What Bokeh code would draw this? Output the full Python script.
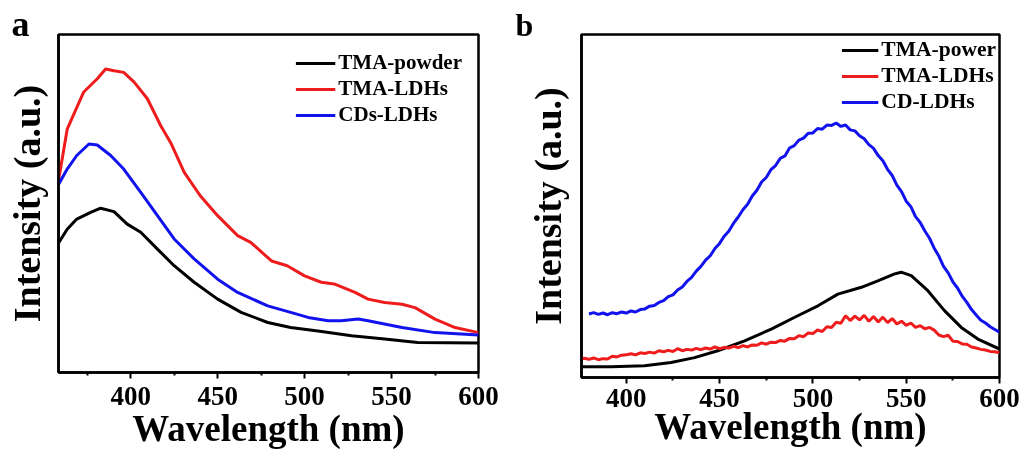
from bokeh.plotting import figure
from bokeh.layouts import row
from bokeh.models import Range1d, Legend, LegendItem, FixedTicker
from bokeh.embed import file_html
from bokeh.resources import INLINE

# ---------------- data: panel a ----------------
a_black_x = [358.7, 363.5, 369, 377, 382.7, 390.4, 398, 405.8, 415.4, 425, 436.5, 450, 463.5, 478.8, 492, 507.7, 527, 546, 565, 600]
a_black_y = [38.5, 42.4, 45.4, 47.4, 48.6, 47.6, 43.9, 41.5, 36.5, 31.6, 26.7, 21.7, 17.8, 14.8, 13.3, 12.3, 10.9, 9.9, 8.9, 8.7]

a_red_x = [358.7, 363.5, 373, 380.8, 385.6, 390.4, 396, 402, 409.6, 417.3, 423, 430.8, 440, 450, 461.5, 469, 481, 490, 500, 509.6, 517, 529, 536.5, 546, 556, 563.5, 575, 586.5, 600]
a_red_y = [57.3, 72, 83, 86.9, 89.8, 89.3, 88.8, 85.9, 81, 73, 68, 59.2, 52.3, 46.4, 40.5, 38.5, 33, 31.6, 28.6, 26.7, 26.2, 23.7, 21.7, 20.7, 20.2, 19.2, 15.8, 13.3, 11.8]

a_blue_x = [358.7, 363.5, 369, 376, 380.8, 388.5, 396, 405.8, 415.4, 425, 436.5, 450, 461.5, 478.8, 492, 502, 513.5, 521, 530.8, 536.5, 556, 575, 600]
a_blue_y = [55.8, 60.2, 64.2, 67.6, 67.3, 64.2, 60.2, 53.3, 46.4, 39.5, 33.6, 27.6, 23.7, 19.7, 17.8, 16.3, 15.3, 15.3, 15.8, 15.3, 13.3, 11.8, 11.1]

# ---------------- data: panel b ----------------
b_black_x = [375.9, 392, 409.8, 424, 436.6, 449, 463.4, 477.7, 490, 502.7, 513.4, 526, 534.8, 543.8, 547.3, 552.7, 561.6, 570.5, 579.5, 588.4, 600]
b_black_y = [3.1, 3.1, 3.4, 4.4, 5.8, 7.8, 10.7, 14.1, 17.5, 20.9, 24.3, 26.3, 28.2, 30.2, 30.7, 29.7, 25.3, 19.5, 14.6, 11.2, 8.3]

b_red_x = [375 + 2.5 * i for i in range(91)]
b_red_y = [5.2, 5.6, 5.3, 5.7, 5.2, 5.5, 5.4, 6.2, 6.0, 6.5, 6.6, 6.9, 6.6, 7.2, 7.0, 7.4, 7.1, 7.8, 7.5, 7.9,
           7.6, 8.4, 7.8, 8.2, 8.0, 8.5, 8.1, 8.6, 8.3, 8.9, 8.4, 8.8, 8.6, 9.1, 8.7, 9.3, 8.9, 9.5, 9.4, 10.1,
           9.7, 10.3, 10.2, 10.8, 10.6, 11.4, 11.3, 12.2, 11.9, 13.0, 12.8, 13.9, 13.4, 14.8, 14.6, 16.1, 15.8, 18.0, 16.6, 17.9,
           16.8, 18.1, 16.4, 17.8, 16.2, 17.6, 16.0, 17.2, 15.6, 16.4, 15.2, 15.9, 14.6, 15.1, 14.2, 14.6, 13.8, 12.4, 11.9, 12.3,
           10.6, 10.5, 9.8, 9.7, 8.9, 8.6, 8.2, 8.0, 7.6, 7.5, 7.2]

b_blue_x = [380 + 2.5 * i for i in range(89)]
b_blue_y = [18.5, 18.9, 18.4, 18.8, 18.3, 18.9, 18.6, 19.1, 18.8, 19.4, 19.1, 19.8, 20.0, 20.8, 21.0, 21.9, 22.4, 23.6, 24.1, 25.5,
            26.4, 28.0, 29.2, 31.0, 32.4, 34.2, 35.5, 37.6, 39.1, 41.2, 42.7, 45.0, 46.8, 48.9, 50.5, 52.9, 54.6, 57.0, 58.3, 60.6,
            61.8, 63.9, 64.6, 66.9, 67.6, 69.2, 69.8, 71.2, 71.3, 72.6, 72.4, 73.6, 73.5, 74.2, 73.2, 73.6, 72.2, 71.9, 70.5, 69.6,
            67.9, 66.8, 64.7, 63.2, 60.7, 58.9, 56.1, 54.2, 51.4, 49.8, 46.9, 45.2, 42.7, 40.6, 37.7, 35.4, 32.4, 30.5, 27.9, 26.1,
            23.7, 21.9, 19.8, 18.2, 16.7, 15.9, 14.8, 14.0, 13.2]

major_ticks = [400, 450, 500, 550, 600]
minor_ticks = [375, 425, 475, 525, 575]
labels_a = ["TMA-powder", "TMA-LDHs", "CDs-LDHs"]
labels_b = ["TMA-power", "TMA-LDHs", "CD-LDHs"]

FONT = "Liberation Serif"
BLACK = "#000000"
RED = "#ee1c1c"
BLUE = "#1212ee"


def make_fig(fw, fh, xr, borders, tick_std, lab_std, y_std):
    l, r, t, b = borders
    p = figure(frame_width=fw, frame_height=fh, output_backend="svg", toolbar_location=None,
               x_range=Range1d(*xr), y_range=Range1d(0, 100),
               min_border_left=l, min_border_right=r, min_border_top=t, min_border_bottom=b)
    p.grid.visible = False
    p.outline_line_color = "black"
    p.outline_line_width = 2.5
    p.outline_line_alpha = 1.0
    p.background_fill_color = "white"
    p.border_fill_color = "white"

    xa = p.xaxis[0]
    xa.ticker = FixedTicker(ticks=major_ticks, minor_ticks=minor_ticks)
    xa.axis_line_width = 2.5
    xa.major_tick_line_width = 2
    xa.minor_tick_line_width = 2
    xa.major_tick_in = 0
    xa.major_tick_out = 6
    xa.minor_tick_in = 0
    xa.minor_tick_out = 3
    xa.major_label_text_font = FONT
    xa.major_label_text_font_style = "bold"
    xa.major_label_text_font_size = "27px"
    xa.major_label_text_color = "black"
    xa.major_label_standoff = tick_std
    xa.axis_label = "Wavelength (nm)"
    xa.axis_label_text_font = FONT
    xa.axis_label_text_font_style = "bold"
    xa.axis_label_text_font_size = "37px"
    xa.axis_label_text_color = "black"
    xa.axis_label_standoff = lab_std

    ya = p.yaxis[0]
    ya.ticker = FixedTicker(ticks=[], minor_ticks=[])
    ya.axis_line_width = 2.5
    ya.major_tick_in = 0
    ya.major_tick_out = 0
    ya.minor_tick_in = 0
    ya.minor_tick_out = 0
    ya.major_label_text_font_size = "0px"
    ya.axis_label = "Intensity (a.u.)"
    ya.axis_label_text_font = FONT
    ya.axis_label_text_font_style = "bold"
    ya.axis_label_text_font_size = "38px"
    ya.axis_label_text_color = "black"
    ya.axis_label_standoff = y_std
    return p


def set_panel_title(p, letter, size, offset, standoff):
    p.title.text = letter
    p.title.text_font = FONT
    p.title.text_font_style = "bold"
    p.title.text_font_size = size
    p.title.text_color = "black"
    p.title.align = "left"
    p.title.offset = offset
    p.title.standoff = standoff


def add_legend(p, renderers, labels, padding, size, gw):
    leg = Legend(items=[LegendItem(label=lab, renderers=[r]) for lab, r in zip(labels, renderers)],
                 location="top_right", border_line_alpha=0, background_fill_alpha=0,
                 label_text_font=FONT, label_text_font_style="bold", label_text_font_size=size,
                 label_text_color="black", glyph_width=gw, glyph_height=22, label_height=22,
                 label_standoff=3, spacing=1, padding=padding, margin=0)
    p.add_layout(leg)


# panel a
pa = make_fig(420, 338, (358.5, 600), (58, 33, 32, 80), 8, 0, 11)
set_panel_title(pa, "a", "36px", -47, -18)
ra1 = pa.line(a_black_x, a_black_y, line_color=BLACK, line_width=3)
ra2 = pa.line(a_red_x, a_red_y, line_color=RED, line_width=3)
ra3 = pa.line(a_blue_x, a_blue_y, line_color=BLUE, line_width=3)
add_legend(pa, [ra1, ra2, ra3], labels_a, 16, "21px", 40)

# panel b
pb = make_fig(418, 343, (376, 600), (70, 24, 34, 73), 5, -4, 13)
set_panel_title(pb, "b", "32px", -66, -16)
rb1 = pb.line(b_black_x, b_black_y, line_color=BLACK, line_width=3)
rb2 = pb.line(b_red_x, b_red_y, line_color=RED, line_width=3)
rb3 = pb.line(b_blue_x, b_blue_y, line_color=BLUE, line_width=3)
add_legend(pb, [rb1, rb2, rb3], labels_b, 3, "21.5px", 37)

layout = row(pa, pb, styles={"position": "fixed", "top": "0px", "left": "0px"})
open("out.html", "w").write(file_html(layout, INLINE))
